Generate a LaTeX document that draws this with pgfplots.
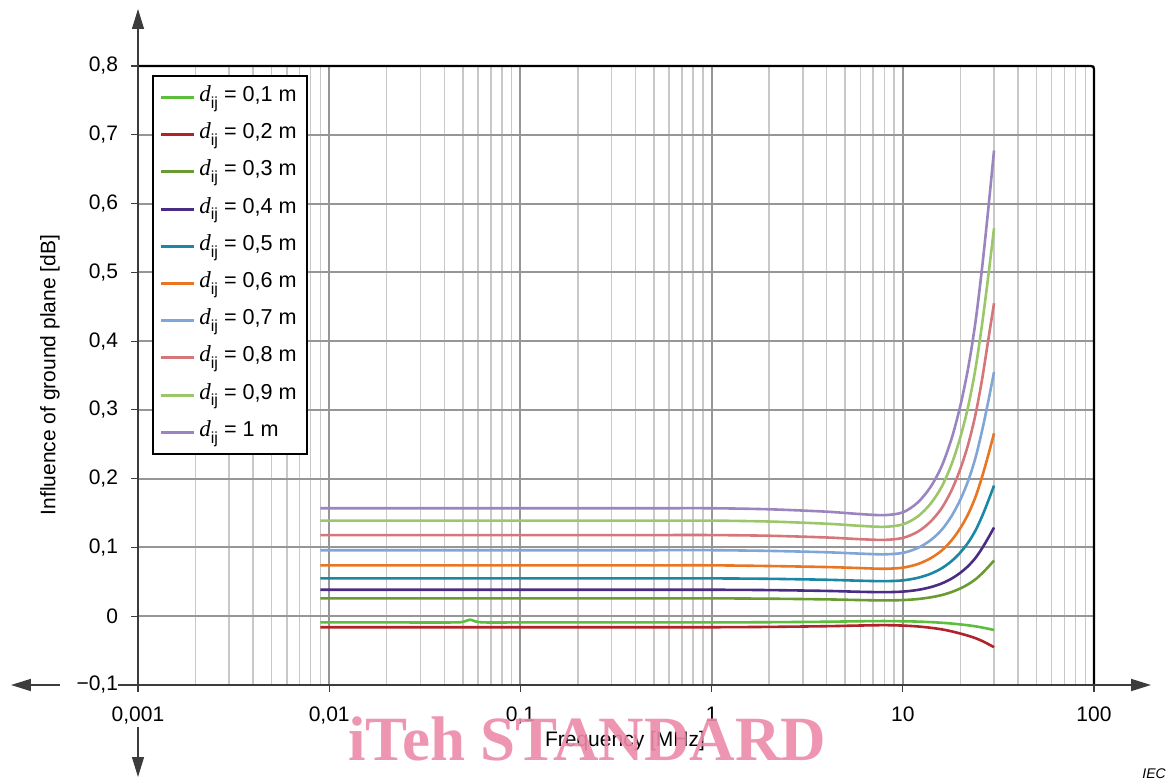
\documentclass[border=0pt]{standalone}
\usepackage{fontspec}
\setmainfont{Liberation Sans}
\newfontfamily\timesfont{Liberation Serif}
\usepackage{pgfplots}
\pgfplotsset{compat=1.18}
\usetikzlibrary{arrows.meta}

\definecolor{cA}{RGB}{92,190,58}
\definecolor{cB}{RGB}{176,35,42}
\definecolor{cC}{RGB}{106,155,48}
\definecolor{cD}{RGB}{75,44,132}
\definecolor{cE}{RGB}{25,135,165}
\definecolor{cF}{RGB}{232,118,34}
\definecolor{cG}{RGB}{128,165,215}
\definecolor{cH}{RGB}{212,118,122}
\definecolor{cI}{RGB}{156,198,106}
\definecolor{cJ}{RGB}{154,133,192}
\definecolor{gridmaj}{RGB}{150,150,150}
\definecolor{gridmin}{RGB}{200,200,200}
\definecolor{axisgray}{RGB}{60,60,60}
\definecolor{wm}{RGB}{236,138,168}

\newcommand{\dij}{{\timesfont\itshape\fontsize{11.5}{12}\selectfont d}\raisebox{-0.6ex}{\fontsize{8}{8}\selectfont ij}}

\begin{document}
\begin{tikzpicture}[font=\fontsize{10.5}{12.6}\selectfont]
\path[use as bounding box] (-69pt,-46.5pt) rectangle (514.5pt,342.5pt);
\begin{axis}[
  scale only axis, width=478pt, height=309.5pt,
  xmode=log, log basis x=10,
  xmin=0.001, xmax=100, ymin=-0.1, ymax=0.8,
  xtick={0.001,0.01,0.1,1,10,100},
  xticklabels={{0,001},{0,01},{0,1},1,10,100},
  minor xtick={0.002,0.003,0.004,0.005,0.006,0.007,0.008,0.009,
               0.02,0.03,0.04,0.05,0.06,0.07,0.08,0.09,
               0.2,0.3,0.4,0.5,0.6,0.7,0.8,0.9,
               2,3,4,5,6,7,8,9,20,30,40,50,60,70,80,90},
  ytick={-0.1,0,0.1,0.2,0.3,0.4,0.5,0.6,0.7,0.8},
  yticklabels={{−0,1},0,{0,1},{0,2},{0,3},{0,4},{0,5},{0,6},{0,7},{0,8}},
  xmajorgrids, xminorgrids, ymajorgrids,
  major grid style={line width=1pt, color=gridmaj},
  minor grid style={line width=0.75pt, color=gridmin},
  axis line style={draw=none},
  tick align=outside, tick pos=left,
  major tick length=3.5pt, minor tick length=0pt,
  tick style={color=axisgray, line width=0.6pt},
  yticklabel style={xshift=-3pt},
  xticklabel style={yshift=-4pt},
  legend style={at={(0,1)}, anchor=north west, xshift=7pt, yshift=-4.5pt,
    draw=black, line width=0.8pt, fill=white, inner xsep=3.5pt, inner ysep=3pt,
    row sep=3pt, font=\fontsize{10.8}{12}\selectfont,
    nodes={inner sep=1.8pt, text height=8pt, text depth=4pt}},
  legend cell align=left,
  legend image code/.code={\draw[#1, line width=1.5pt] (0pt,0pt) -- (16.5pt,0pt);},
  every axis plot/.append style={line width=1.3pt, smooth},
]
\addplot[cA] coordinates {(0.009,-0.009)(0.02,-0.009)(0.045,-0.009)(0.051,-0.0075)(0.0547,-0.005)(0.058,-0.0075)(0.065,-0.009)(0.1,-0.009)(0.2,-0.009)(0.5,-0.009)(1,-0.009)(2,-0.0087)(4,-0.008)(6,-0.0073)(8,-0.007)(10,-0.0073)(12,-0.0078)(14,-0.0086)(16,-0.0095)(18,-0.0106)(20,-0.0119)(22,-0.0132)(24,-0.0147)(26,-0.0164)(28,-0.0182)(30,-0.020)};
\addlegendentry{\dij{} = 0,1 m}
\addplot[cB] coordinates {(0.009,-0.016)(0.02,-0.016)(0.05,-0.016)(0.1,-0.016)(0.2,-0.016)(0.5,-0.016)(1,-0.016)(2,-0.0155)(4,-0.0145)(6,-0.0135)(8,-0.013)(10,-0.0136)(12,-0.0149)(14,-0.0168)(16,-0.0191)(18,-0.022)(20,-0.0252)(22,-0.0284)(24,-0.0319)(26,-0.036)(28,-0.0405)(30,-0.045)};
\addlegendentry{\dij{} = 0,2 m}
\addplot[cC] coordinates {(0.009,0.026)(0.02,0.026)(0.05,0.026)(0.1,0.026)(0.2,0.026)(0.5,0.026)(1,0.026)(2,0.0255)(4,0.0245)(6,0.0235)(8,0.023)(10,0.0235)(12,0.025)(14,0.0275)(16,0.0308)(18,0.0352)(20,0.0404)(22,0.0465)(24,0.0537)(26,0.0624)(28,0.0717)(30,0.081)};
\addlegendentry{\dij{} = 0,3 m}
\addplot[cD] coordinates {(0.009,0.0385)(0.02,0.0385)(0.05,0.0385)(0.1,0.0385)(0.2,0.0385)(0.5,0.0385)(1,0.0385)(2,0.038)(4,0.0368)(6,0.0355)(8,0.035)(10,0.0358)(12,0.0383)(14,0.0423)(16,0.0477)(18,0.0547)(20,0.0632)(22,0.0731)(24,0.0848)(26,0.0989)(28,0.114)(30,0.129)};
\addlegendentry{\dij{} = 0,4 m}
\addplot[cE] coordinates {(0.009,0.055)(0.02,0.055)(0.05,0.055)(0.1,0.055)(0.2,0.055)(0.5,0.055)(1,0.055)(2,0.0544)(4,0.053)(6,0.0516)(8,0.051)(10,0.0521)(12,0.0559)(14,0.0618)(16,0.0698)(18,0.0802)(20,0.0927)(22,0.1073)(24,0.1247)(26,0.1455)(28,0.1678)(30,0.190)};
\addlegendentry{\dij{} = 0,5 m}
\addplot[cF] coordinates {(0.009,0.074)(0.02,0.074)(0.05,0.074)(0.1,0.074)(0.2,0.074)(0.5,0.074)(1,0.074)(2,0.073)(4,0.0715)(6,0.070)(8,0.069)(10,0.0706)(12,0.0759)(14,0.0844)(16,0.0956)(18,0.1104)(20,0.1281)(22,0.1488)(24,0.1734)(26,0.203)(28,0.2345)(30,0.266)};
\addlegendentry{\dij{} = 0,6 m}
\addplot[cG] coordinates {(0.009,0.096)(0.02,0.096)(0.05,0.096)(0.1,0.096)(0.2,0.096)(0.5,0.096)(1,0.096)(2,0.095)(4,0.093)(6,0.091)(8,0.090)(10,0.0921)(12,0.0993)(14,0.1107)(16,0.1258)(18,0.1457)(20,0.1695)(22,0.1973)(24,0.2305)(26,0.2702)(28,0.3126)(30,0.355)};
\addlegendentry{\dij{} = 0,7 m}
\addplot[cH] coordinates {(0.009,0.118)(0.02,0.118)(0.05,0.118)(0.1,0.118)(0.2,0.118)(0.5,0.118)(1,0.118)(2,0.117)(4,0.1145)(6,0.112)(8,0.111)(10,0.1138)(12,0.123)(14,0.1378)(16,0.1574)(18,0.1832)(20,0.2142)(22,0.2503)(24,0.2933)(26,0.3449)(28,0.402)(30,0.455)};
\addlegendentry{\dij{} = 0,8 m}
\addplot[cI] coordinates {(0.009,0.139)(0.02,0.139)(0.05,0.139)(0.1,0.139)(0.2,0.139)(0.5,0.139)(1,0.139)(2,0.1377)(4,0.1345)(6,0.1314)(8,0.130)(10,0.1335)(12,0.1452)(14,0.1639)(16,0.1886)(18,0.2211)(20,0.2602)(22,0.3058)(24,0.36)(26,0.4251)(28,0.4946)(30,0.564)};
\addlegendentry{\dij{} = 0,9 m}
\addplot[cJ] coordinates {(0.009,0.157)(0.02,0.157)(0.05,0.157)(0.1,0.157)(0.2,0.157)(0.5,0.157)(1,0.157)(2,0.1555)(4,0.152)(6,0.1485)(8,0.147)(10,0.151)(12,0.1656)(14,0.1883)(16,0.2186)(18,0.2583)(20,0.306)(22,0.3617)(24,0.4279)(26,0.5074)(28,0.5922)(30,0.677)};
\addlegendentry{\dij{} = 1 m}
\end{axis}
% frame and axes
\draw[line width=1.1pt, black, rounded corners=1.5pt] (0pt,309.5pt) -- (478pt,309.5pt) -- (478pt,0pt);
\draw[line width=0.6pt, axisgray, -{Triangle[length=10pt,width=6pt]}] (0pt,-3.5pt) -- (0pt,338pt);
\draw[line width=0.6pt, axisgray, -{Triangle[length=10pt,width=6pt]}] (0pt,-21pt) -- (0pt,-46pt);
\draw[line width=0.9pt, axisgray, -{Triangle[length=10pt,width=6pt]}] (-10pt,0pt) -- (506.5pt,0pt);
\draw[line width=0.9pt, axisgray, -{Triangle[length=10pt,width=6pt]}] (-39pt,0pt) -- (-63.5pt,0pt);
% labels
\node[rotate=90] at (-44pt,155pt) {Influence of ground plane [dB]};
\node at (243.5pt,-28pt) {Frequency [MHz]};
\node[anchor=base west, inner sep=0pt, text=wm, opacity=0.9, font=\timesfont\bfseries\fontsize{31.5}{32}\selectfont] at (105pt,-37.5pt) {iTeh STANDARD};
\node[anchor=north west, inner sep=0pt, font=\itshape\fontsize{7}{8}\selectfont] at (502pt,-41.5pt) {IEC};
\end{tikzpicture}
\end{document}
